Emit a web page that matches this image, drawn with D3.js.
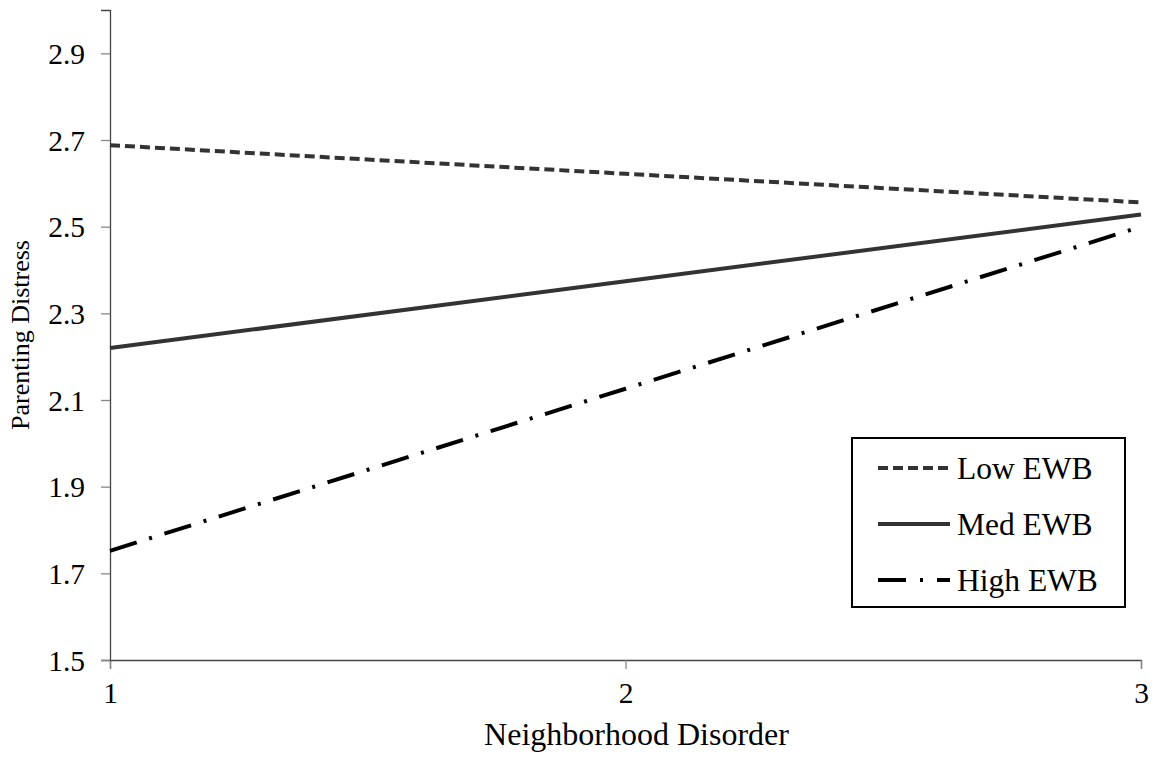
<!DOCTYPE html>
<html>
<head>
<meta charset="utf-8">
<script src="https://cdn.jsdelivr.net/npm/d3@7"></script>
<style>
  body { margin: 0; background: #fff; }
  svg text { font-family: "Liberation Serif", "Times New Roman", Times, serif; }
</style>
</head>
<body>
<div id="chart"></div>
<script>
// data
var xValues = [1, 2, 3];
var lowEWB = [2.688, 2.622, 2.556];
var medEWB = [2.220, 2.374, 2.528];
var highEWB = [1.752, 2.126, 2.500];
var seriesNames = ['Low EWB', 'Med EWB', 'High EWB'];
var yTicks = [1.5, 1.7, 1.9, 2.1, 2.3, 2.5, 2.7, 2.9];

var width = 1157, height = 760;
var margin = { top: 10, right: 16, bottom: 100, left: 110 };
var plotW = width - margin.left - margin.right;
var plotH = height - margin.top - margin.bottom;

var styles = [
    { stroke: '#333', width: 4, dash: '10,5' },
    { stroke: '#333', width: 4, dash: null },
    { stroke: '#000', width: 4, dash: '28,13,3,13' }
];

var svg = d3.select('#chart')
    .append('svg')
    .attr('width', width)
    .attr('height', height)
    .append('g')
    .attr('transform', `translate(${margin.left},${margin.top})`);

var xScale = d3.scaleLinear().domain([1, 3]).range([0, plotW]);
var yScale = d3.scaleLinear().domain([1.5, 3.0]).range([plotH, 0]);

var xAxis = svg.append('g')
    .attr('transform', `translate(0,${plotH})`)
    .call(d3.axisBottom(xScale).tickValues(xValues).tickFormat(d3.format('d')).tickSize(9).tickPadding(13));

var yAxis = svg.append('g')
    .call(d3.axisLeft(yScale).tickValues(yTicks).tickFormat(d3.format('.1f')).tickSize(9).tickPadding(16));

[xAxis, yAxis].forEach(function (ax) {
    ax.attr('font-family', null);
    ax.select('.domain').attr('stroke', '#444').attr('stroke-width', 1.3);
    ax.selectAll('.tick line').attr('stroke', '#888').attr('stroke-width', 1.3);
    ax.selectAll('.tick text')
        .attr('fill', '#000')
        .style('font-size', '29.5px');
});
yAxis.selectAll('.tick text').attr('dy', '0.34em');

svg.append('text')
    .attr('x', plotW / 2 + 11)
    .attr('y', plotH + 85)
    .attr('text-anchor', 'middle')
    .style('font-size', '32px')
    .text('Neighborhood Disorder');

svg.append('text')
    .attr('transform', `translate(${-81},${plotH / 2}) rotate(-90)`)
    .attr('text-anchor', 'middle')
    .style('font-size', '26px')
    .text('Parenting Distress');

var series = [lowEWB, medEWB, highEWB];
var line = d3.line()
    .x(function (d, i) { return xScale(xValues[i]); })
    .y(function (d) { return yScale(d); });

svg.selectAll('path.series')
    .data(series)
    .join('path')
    .attr('class', 'series')
    .attr('d', line)
    .attr('fill', 'none')
    .attr('stroke', function (d, i) { return styles[i].stroke; })
    .attr('stroke-width', function (d, i) { return styles[i].width; })
    .attr('stroke-dasharray', function (d, i) { return styles[i].dash; });

// legend
var legend = svg.append('g')
    .attr('transform', `translate(${852 - margin.left},${438 - margin.top})`);

legend.append('rect')
    .attr('width', 273)
    .attr('height', 169)
    .attr('fill', '#fff')
    .attr('stroke', '#000')
    .attr('stroke-width', 2);

var rows = legend.selectAll('g.row')
    .data(seriesNames)
    .join('g')
    .attr('class', 'row')
    .attr('transform', function (d, i) { return `translate(0,${30 + i * 56})`; });

rows.append('line')
    .attr('x1', 26).attr('x2', 98)
    .attr('stroke', function (d, i) { return styles[i].stroke; })
    .attr('stroke-width', function (d, i) { return styles[i].width; })
    .attr('stroke-dasharray', function (d, i) { return i === 0 ? '10,5' : (i === 2 ? '28,14,3,14' : null); });

rows.append('text')
    .attr('x', 105)
    .attr('dy', '0.35em')
    .style('font-size', '31.5px')
    .text(function (d) { return d; });
</script>
</body>
</html>
